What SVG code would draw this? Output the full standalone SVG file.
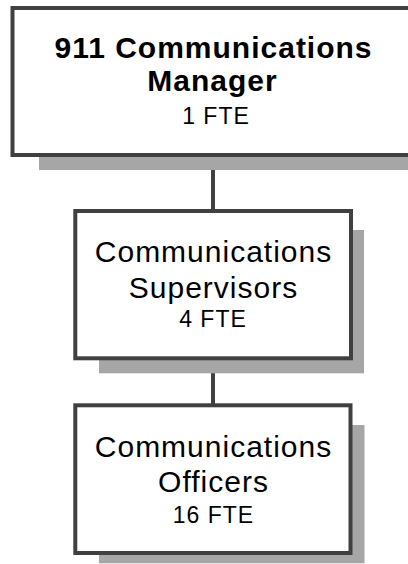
<svg xmlns="http://www.w3.org/2000/svg" width="408" height="564" viewBox="0 0 408 564">
<style>
.shadow{fill:#a6a6a6;stroke:none}
.box{fill:#ffffff;stroke:#404040;stroke-width:4}
.conn{stroke:#404040;stroke-width:4;fill:none}
text{font-family:"Liberation Sans",Arial,sans-serif;fill:#000;text-anchor:middle}
.title{font-size:30px;font-weight:bold;letter-spacing:1px}
.name{font-size:30px;letter-spacing:1px}
.fte{font-size:23px;letter-spacing:1px}
</style>
<rect width="408" height="564" fill="#ffffff"/>
<g id="connectors">
<line class="conn" x1="213" y1="155" x2="213" y2="211"/>
<line class="conn" x1="213" y1="358" x2="213" y2="405"/>
</g>
<g id="manager">
<rect class="shadow" x="39" y="20" width="400" height="150"/>
<rect class="box" x="12.5" y="8" width="401" height="147"/>
<text class="title" x="213.5" y="57.5">911 Communications</text>
<text class="title" x="212.5" y="90.5">Manager</text>
<text class="fte" x="216" y="124">1 FTE</text>
</g>
<g id="supervisors">
<rect class="shadow" x="99" y="230" width="265" height="143.3"/>
<rect class="box" x="75.3" y="211" width="275.7" height="147.3"/>
<text class="name" x="213.5" y="261.5">Communications</text>
<text class="name" x="213.5" y="298.3">Supervisors</text>
<text class="fte" x="213" y="326.7">4 FTE</text>
</g>
<g id="officers">
<rect class="shadow" x="99" y="425" width="265.5" height="138.3"/>
<rect class="box" x="75.3" y="405.3" width="275.2" height="147.7"/>
<text class="name" x="213.5" y="456.7">Communications</text>
<text class="name" x="213.5" y="491.7">Officers</text>
<text class="fte" x="213.5" y="523">16 FTE</text>
</g>
</svg>
